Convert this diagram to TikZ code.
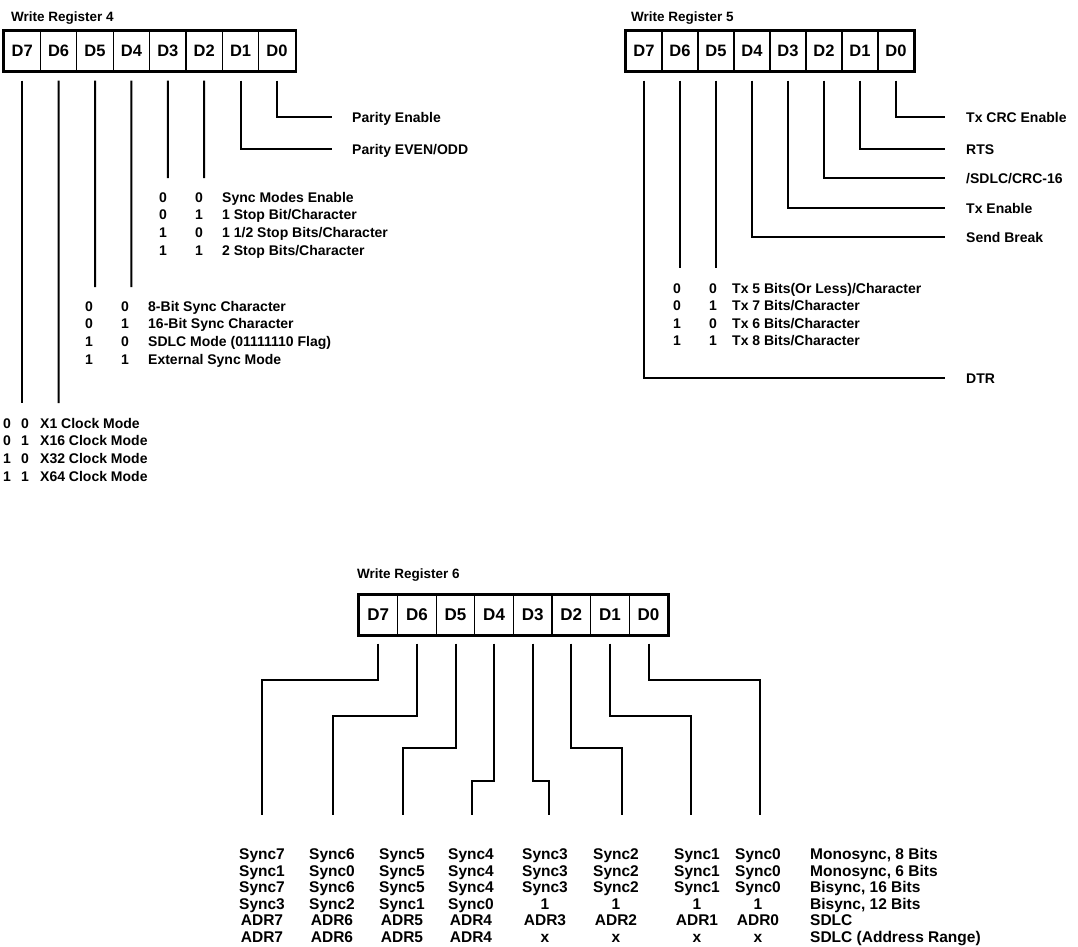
\documentclass[tikz,border=0pt]{standalone}
\usepackage{fontspec}
\setmainfont{Liberation Sans}
\newcommand\bitrow[8]{%
  \node[bit] (#1a) at (#2,#5) {#6};
  \node[bit] (#1b) at (#3,#5) {#7};
  \node[lbl] (#1t) at (#4,#5) {#8};}
\begin{document}
\begin{tikzpicture}[x=1pt,y=-1pt,
  cellA/.style={draw,line width=1.2pt,minimum width=36.4pt,minimum height=40pt,inner sep=0pt,font=\fontsize{16.5}{16.5}\selectfont\bfseries},
  cellB/.style={cellA,minimum width=36pt},
  cellC/.style={cellA,minimum width=38.6pt,font=\fontsize{17}{17}\selectfont\bfseries},
  boxline/.style={line width=2.6pt},
  wire/.style={line width=2pt},
  lbl/.style={anchor=west,inner sep=0pt,text height=10pt,text depth=0pt,font=\fontsize{14}{14}\selectfont\bfseries},
  bit/.style={anchor=center,inner sep=0pt,text height=10pt,text depth=0pt,font=\fontsize{14}{14}\selectfont\bfseries},
  ttl/.style={anchor=west,inner sep=0pt,text height=9.5pt,text depth=0pt,font=\fontsize{13.5}{13.5}\selectfont\bfseries},
  tcell/.style={anchor=center,inner sep=0pt,text height=11pt,text depth=0pt,font=\fontsize{15.5}{15.5}\selectfont\bfseries},
  tdesc/.style={tcell,anchor=west}
]
\useasboundingbox (0,0) rectangle (1078,946);

% ================= Write Register 4 =================
\node[ttl] (t4) at (11,17) {Write Register 4};
\foreach \i [count=\k from 0] in {7,6,...,0}
  \node[cellA] (r4d\i) at ({22.2+36.4*\k},51) {D\i};
\draw[boxline] (r4d7.north west) rectangle (r4d0.south east);

\node[lbl] (lpe) at (352,117) {Parity Enable};
\node[lbl] (lpo) at (352,149) {Parity EVEN/ODD};
\draw[wire] ([yshift=-9pt]r4d0.south) |- ([xshift=-20pt]lpe.west);
\draw[wire] ([yshift=-9pt]r4d1.south) |- ([xshift=-20pt]lpo.west);

\coordinate (r4e2) at (204.2,178);
\coordinate (r4e3) at (167.8,178);
\coordinate (r4e4) at (131.4,287);
\coordinate (r4e5) at (95,287);
\coordinate (r4e6) at (58.6,403);
\coordinate (r4e7) at (22.2,403);
\foreach \i in {2,...,7}
  \draw[wire] ([yshift=-9pt]r4d\i.south) -- (r4e\i);

\bitrow{sa}{163}{199}{222}{197}{0}{0}{Sync Modes Enable}
\bitrow{sb}{163}{199}{222}{214.7}{0}{1}{1 Stop Bit/Character}
\bitrow{sc}{163}{199}{222}{232.4}{1}{0}{1 1/2 Stop Bits/Character}
\bitrow{sd}{163}{199}{222}{250.1}{1}{1}{2 Stop Bits/Character}

\bitrow{ca}{89}{125}{148}{306}{0}{0}{8-Bit Sync Character}
\bitrow{cb}{89}{125}{148}{323.7}{0}{1}{16-Bit Sync Character}
\bitrow{cc}{89}{125}{148}{341.4}{1}{0}{SDLC Mode (01111110 Flag)}
\bitrow{cd}{89}{125}{148}{359.1}{1}{1}{External Sync Mode}

\bitrow{ka}{7}{25}{40}{423}{0}{0}{X1 Clock Mode}
\bitrow{kb}{7}{25}{40}{440.7}{0}{1}{X16 Clock Mode}
\bitrow{kc}{7}{25}{40}{458.4}{1}{0}{X32 Clock Mode}
\bitrow{kd}{7}{25}{40}{476.1}{1}{1}{X64 Clock Mode}

% ================= Write Register 5 =================
\node[ttl] (t5) at (631,17) {Write Register 5};
\foreach \i [count=\k from 0] in {7,6,...,0}
  \node[cellB] (r5d\i) at ({644+36*\k},51) {D\i};
\draw[boxline] (r5d7.north west) rectangle (r5d0.south east);

\node[lbl] (ltc) at (966,117) {Tx CRC Enable};
\node[lbl] (lrts) at (966,149) {RTS};
\node[lbl] (lsd) at (966,178) {/SDLC/CRC-16};
\node[lbl] (lte) at (966,208) {Tx Enable};
\node[lbl] (lsb) at (966,237) {Send Break};
\node[lbl] (ldtr) at (966,378) {DTR};
\draw[wire] ([yshift=-9pt]r5d0.south) |- ([xshift=-21pt]ltc.west);
\draw[wire] ([yshift=-9pt]r5d1.south) |- ([xshift=-21pt]lrts.west);
\draw[wire] ([yshift=-9pt]r5d2.south) |- ([xshift=-21pt]lsd.west);
\draw[wire] ([yshift=-9pt]r5d3.south) |- ([xshift=-21pt]lte.west);
\draw[wire] ([yshift=-9pt]r5d4.south) |- ([xshift=-21pt]lsb.west);
\draw[wire] ([yshift=-9pt]r5d7.south) |- ([xshift=-21pt]ldtr.west);
\coordinate (r5e5) at (716,268);
\coordinate (r5e6) at (680,268);
\draw[wire] ([yshift=-9pt]r5d5.south) -- (r5e5);
\draw[wire] ([yshift=-9pt]r5d6.south) -- (r5e6);

\bitrow{xa}{677}{713}{732}{288}{0}{0}{Tx 5 Bits(Or Less)/Character}
\bitrow{xb}{677}{713}{732}{305.5}{0}{1}{Tx 7 Bits/Character}
\bitrow{xc}{677}{713}{732}{323}{1}{0}{Tx 6 Bits/Character}
\bitrow{xd}{677}{713}{732}{340.5}{1}{1}{Tx 8 Bits/Character}

% ================= Write Register 6 =================
\node[ttl] (t6) at (357,574) {Write Register 6};
\foreach \i [count=\k from 0] in {7,6,...,0}
  \node[cellC] (r6d\i) at ({378.3+38.6*\k},615) {D\i};
\draw[boxline] (r6d7.north west) rectangle (r6d0.south east);

\foreach \i/\x/\y in {7/262/680,6/333/716,5/403/748,4/472/781,3/549/781,2/622/748,1/691/716,0/760/680}{
  \coordinate (r6k\i) at (\x,\y);
  \coordinate (r6b\i) at (\x,815);
  \draw[wire] ([yshift=-8pt]r6d\i.south) |- (r6k\i) -- (r6b\i);
}

\foreach \x/\v [count=\k] in {262/Sync7,332/Sync6,402/Sync5,471/Sync4,545/Sync3,616/Sync2,697/Sync1,758/Sync0}
  \node[tcell] (ra\k) at (\x,854) {\v};
\node[tdesc] (rad) at (810,854) {Monosync, 8 Bits};
\foreach \x/\v [count=\k] in {262/Sync1,332/Sync0,402/Sync5,471/Sync4,545/Sync3,616/Sync2,697/Sync1,758/Sync0}
  \node[tcell] (rb\k) at (\x,870.6) {\v};
\node[tdesc] (rbd) at (810,870.6) {Monosync, 6 Bits};
\foreach \x/\v [count=\k] in {262/Sync7,332/Sync6,402/Sync5,471/Sync4,545/Sync3,616/Sync2,697/Sync1,758/Sync0}
  \node[tcell] (rc\k) at (\x,887.2) {\v};
\node[tdesc] (rcd) at (810,887.2) {Bisync, 16 Bits};
\foreach \x/\v [count=\k] in {262/Sync3,332/Sync2,402/Sync1,471/Sync0,545/1,616/1,697/1,758/1}
  \node[tcell] (rd\k) at (\x,903.8) {\v};
\node[tdesc] (rdd) at (810,903.8) {Bisync, 12 Bits};
\foreach \x/\v [count=\k] in {262/ADR7,332/ADR6,402/ADR5,471/ADR4,545/ADR3,616/ADR2,697/ADR1,758/ADR0}
  \node[tcell] (re\k) at (\x,920.4) {\v};
\node[tdesc] (red) at (810,920.4) {SDLC};
\foreach \x/\v [count=\k] in {262/ADR7,332/ADR6,402/ADR5,471/ADR4,545/x,616/x,697/x,758/x}
  \node[tcell] (rf\k) at (\x,937) {\v};
\node[tdesc] (rfd) at (810,937) {SDLC (Address Range)};
\end{tikzpicture}
\end{document}
